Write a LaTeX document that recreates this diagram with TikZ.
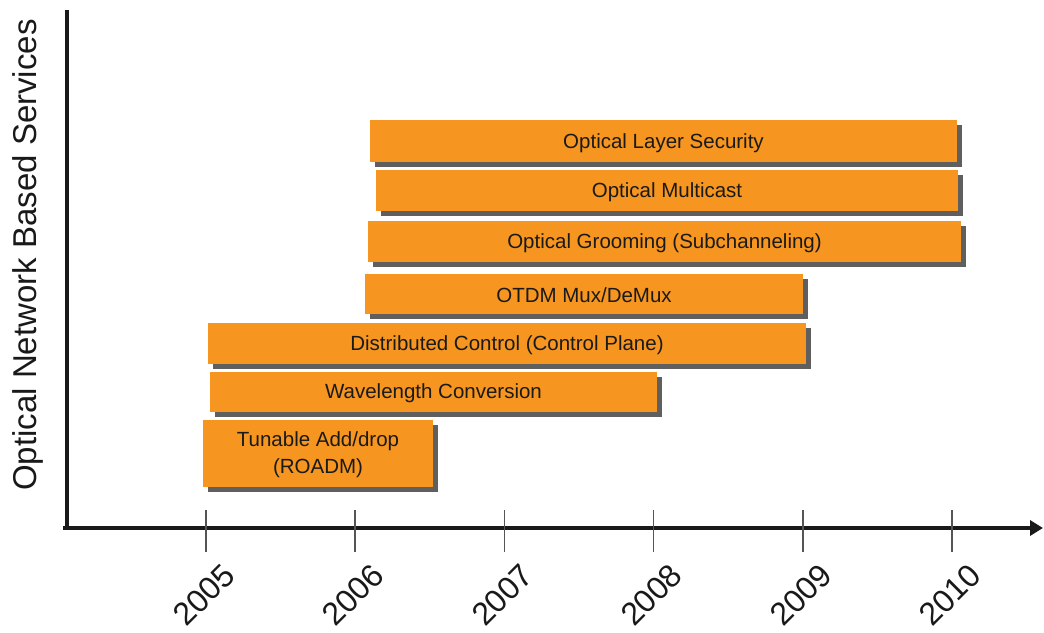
\documentclass[tikz,border=0pt]{standalone}
\usepackage{fontspec}
\setmainfont{Liberation Sans}
\usetikzlibrary{arrows.meta,shadows}
\definecolor{barorange}{HTML}{F6951F}
\definecolor{bartext}{HTML}{1A1A1A}
\definecolor{shadowgrey}{HTML}{444444}
\definecolor{tickgrey}{HTML}{555555}
\tikzset{
  bar/.style={fill=barorange, draw=none, inner sep=0pt, text=bartext,
    font=\fontsize{20.5}{27}\selectfont, align=center,
    drop shadow={shadow xshift=5pt, shadow yshift=-5pt, fill=shadowgrey, opacity=0.85}},
  bartxt/.style={text=bartext, font=\fontsize{20.5}{27}\selectfont, align=center, inner sep=0pt},
  axisline/.style={line width=3.5pt, draw=black!90, line join=miter},
  yeartick/.style={line width=1.6pt, draw=tickgrey},
  yearlabel/.style={rotate=45, inner sep=0pt, font=\fontsize{32}{32}\selectfont, text=black!90},
}
\begin{document}
\begin{tikzpicture}[x=1pt, y=-1pt]
  \useasboundingbox (0,0) rectangle (1044,632);
  \fill[white] (0,0) rectangle (1044,632);

  % axes
  \coordinate (ytop) at (67,10);
  \coordinate (origin) at (67,528);
  \coordinate (xstart) at (63,528);
  \coordinate (xend) at (1043,528);
  \draw[axisline] (ytop) -- (origin);
  \draw[axisline, -{Triangle[length=13pt,width=15pt]}] (xstart) -- (xend);

  % year ticks and labels
  \foreach \yr [count=\i from 0] in {2005,2006,2007,2008,2009,2010} {
    \coordinate (t\yr a) at ({206+149.2*\i},510);
    \coordinate (t\yr b) at ({206+149.2*\i},552);
    \draw[yeartick] (t\yr a) -- (t\yr b);
    \node[yearlabel] (y\yr) at ({204+149.2*\i},595) {\yr};
  }

  % vertical axis title
  \node[rotate=90, font=\fontsize{33}{33}\selectfont, text=black!90] (ytitle) at (28,255)
    {Optical Network Based Services};

  % service bars (boxes), labels set slightly below the box centre
  \node[bar, minimum width=587pt, minimum height=42pt] (sec)   at (663.5,141)   {};
  \node[bar, minimum width=582pt, minimum height=41pt] (mcast) at (667,190.5)   {};
  \node[bar, minimum width=593pt, minimum height=41pt] (groom) at (664.5,241.5) {};
  \node[bar, minimum width=438pt, minimum height=40pt] (otdm)  at (584,294)     {};
  \node[bar, minimum width=598pt, minimum height=41pt] (dist)  at (507,343.5)   {};
  \node[bar, minimum width=447pt, minimum height=40pt] (wave)  at (433.5,392)   {};
  \node[bar, minimum width=230pt, minimum height=67pt] (roadm) at (318,453.5)   {};

  \node[bartxt] (secL)   at ([yshift=-2pt]sec.center)   {Optical Layer Security};
  \node[bartxt] (mcastL) at ([yshift=-2pt]mcast.center) {Optical Multicast};
  \node[bartxt] (groomL) at ([yshift=-2pt]groom.center) {Optical Grooming (Subchanneling)};
  \node[bartxt] (otdmL)  at ([yshift=-1pt]otdm.center)  {OTDM Mux/DeMux};
  \node[bartxt] (distL)  at ([yshift=-2pt]dist.center)  {Distributed Control (Control Plane)};
  \node[bartxt] (waveL)  at ([yshift=-1pt]wave.center)  {Wavelength Conversion};
  \node[bartxt] (roadmL) at ([yshift=-1pt]roadm.center) {Tunable Add/drop\\(ROADM)};
\end{tikzpicture}
\end{document}
